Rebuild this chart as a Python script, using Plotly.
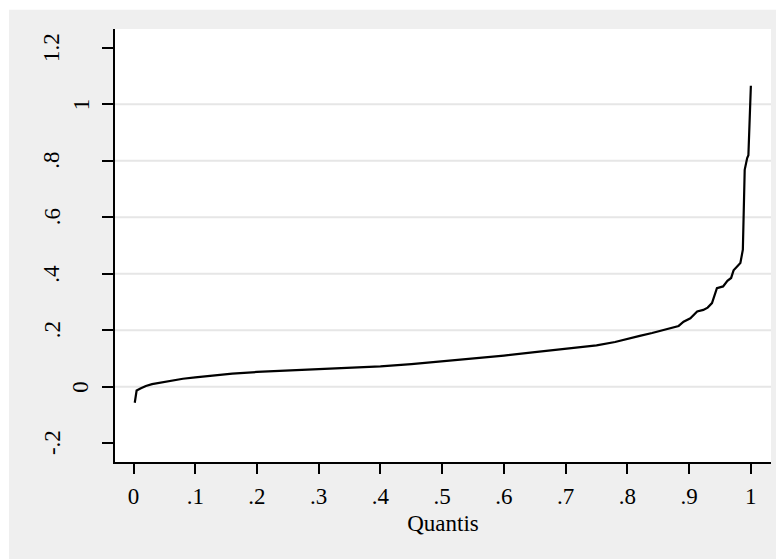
import plotly.graph_objects as go

# Data (quantile function)
quantis = [0.002, 0.005, 0.012, 0.02, 0.03, 0.045, 0.06, 0.08, 0.10, 0.13, 0.16, 0.20,
           0.25, 0.30, 0.35, 0.40, 0.45, 0.50, 0.55, 0.60, 0.65, 0.70, 0.75, 0.78,
           0.80, 0.82, 0.84, 0.853, 0.87, 0.883, 0.891, 0.902, 0.913, 0.923, 0.93, 0.937, 0.945,
           0.955, 0.962, 0.968, 0.972, 0.978, 0.983, 0.987, 0.990, 0.994, 0.996, 1.0]
valores = [-0.057, -0.014, -0.006, 0.002, 0.009, 0.015, 0.022, 0.028, 0.033, 0.040, 0.046, 0.052,
           0.057, 0.062, 0.067, 0.072, 0.080, 0.090, 0.099, 0.110, 0.122, 0.135, 0.146, 0.158,
           0.170, 0.180, 0.190, 0.198, 0.206, 0.215, 0.230, 0.242, 0.266, 0.272, 0.280, 0.296, 0.349,
           0.355, 0.375, 0.385, 0.412, 0.428, 0.438, 0.485, 0.768, 0.810, 0.820, 1.066]

x_ticks = [0, 0.1, 0.2, 0.3, 0.4, 0.5, 0.6, 0.7, 0.8, 0.9, 1.0]
x_labels = ["0", ".1", ".2", ".3", ".4", ".5", ".6", ".7", ".8", ".9", "1"]
y_ticks = [-0.2, 0, 0.2, 0.4, 0.6, 0.8, 1.0, 1.2]
y_labels = ["-.2", "0", ".2", ".4", ".6", ".8", "1", "1.2"]
grid_vals = [0, 0.2, 0.4, 0.6, 0.8, 1.0]

titulo = "Distribuição do tempo médio de atendimento nos hospitais e nas clínicas por estado"
x_titulo = "Quantis"

FONT = "Liberation Serif"
W, H = 776, 559
L, R, T, B = 115, 5.3, 29.3, 97
pw, ph = W - L - R, H - T - B

def px_x(px):
    return (px - L) / pw

def px_y(py):
    return (H - B - py) / ph

fig = go.Figure()
fig.add_trace(go.Scatter(x=quantis, y=valores, mode="lines",
                         line=dict(color="black", width=2.2), showlegend=False))

shapes = [
    dict(type="rect", xref="paper", yref="paper",
         x0=px_x(-5), x1=px_x(9), y0=px_y(H + 5), y1=px_y(-5),
         fillcolor="white", line=dict(width=0), layer="below"),
    dict(type="rect", xref="paper", yref="paper",
         x0=px_x(-5), x1=px_x(W + 5), y0=px_y(10), y1=px_y(-5),
         fillcolor="white", line=dict(width=0), layer="below"),
]
for g in grid_vals:
    shapes.append(dict(type="line", xref="paper", yref="y", x0=0, x1=1, y0=g, y1=g,
                       line=dict(color="#e6e6e6", width=2), layer="below"))

annotations = []
for v, lab in zip(y_ticks, y_labels):
    shift = -63 if "." in lab else -34
    annotations.append(dict(x=0, xref="paper", y=v, yref="y", text=lab, showarrow=False,
                            textangle=-90, xanchor="center", yanchor="middle", xshift=shift,
                            font=dict(family=FONT, size=23, color="black")))
annotations.append(dict(x=px_x(-15), xref="paper", y=px_y(-1.5), yref="paper", text="<b>" + titulo + "</b>",
                        showarrow=False, xanchor="left", yanchor="bottom",
                        font=dict(family=FONT, size=21, color="black")))

fig.update_layout(
    width=W, height=H,
    margin=dict(l=L, r=R, t=T, b=B, pad=0),
    paper_bgcolor="#efefef", plot_bgcolor="white",
    font=dict(family=FONT, size=23, color="black"),
    shapes=shapes, annotations=annotations,
    xaxis=dict(range=[-0.030, 1.0326], tickvals=x_ticks, ticktext=x_labels, automargin=False,
               showgrid=False, zeroline=False, showline=True, linecolor="black", linewidth=2,
               ticks="outside", ticklen=10, tickwidth=1.5, tickcolor="black",
               ticklabelstandoff=2,
               tickfont=dict(family=FONT, size=23),
               title=dict(text=x_titulo, font=dict(family=FONT, size=23), standoff=7)),
    yaxis=dict(range=[-0.267, 1.267], tickvals=y_ticks, showticklabels=False, automargin=False,
               showgrid=False, zeroline=False, showline=True, linecolor="black", linewidth=2,
               ticks="outside", ticklen=11, tickwidth=1.5, tickcolor="black"),
)

fig.write_html("out.html", config={"displayModeBar": False},
               post_script="document.body.style.margin='0';document.body.style.padding='0';")
